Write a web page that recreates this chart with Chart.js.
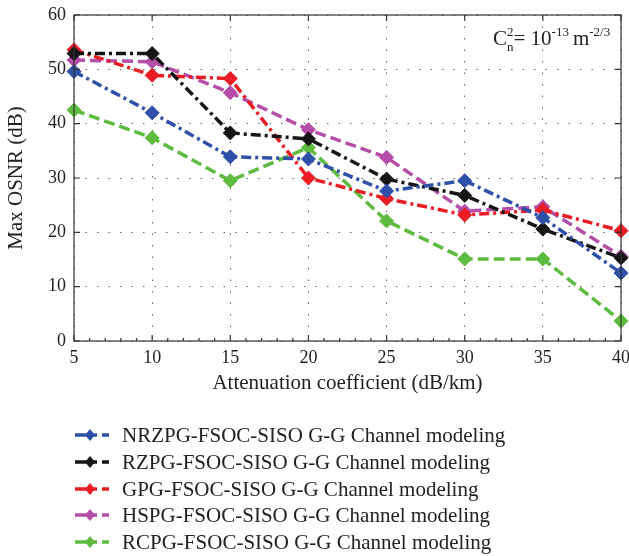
<!DOCTYPE html>
<html>
<head>
<meta charset="utf-8">
<script src="https://cdn.jsdelivr.net/npm/chart.js@4.4.1/dist/chart.umd.min.js"></script>
<style>
  html, body { margin: 0; padding: 0; background: #fff; }
  #wrap { width: 629px; height: 556px; position: relative; }
</style>
</head>
<body>
<div id="wrap"><canvas id="osnrChart"></canvas></div>
<script>
const attenuation = [5, 10, 15, 20, 25, 30, 35, 40];
const nrzpg = [49.6, 42.0, 33.9, 33.5, 27.6, 29.5, 22.7, 12.5];
const rzpg  = [52.9, 52.9, 38.3, 37.2, 29.8, 26.8, 20.6, 15.3];
const gpg   = [53.6, 48.9, 48.3, 30.0, 26.2, 23.2, 24.1, 20.3];
const hspg  = [51.7, 51.4, 45.7, 38.9, 33.8, 23.9, 24.7, 15.6];
const rcpg  = [42.5, 37.4, 29.5, 35.6, 22.1, 15.1, 15.1, 3.7];
const seriesNames = [
  'NRZPG-FSOC-SISO G-G Channel modeling',
  'RZPG-FSOC-SISO G-G Channel modeling',
  'GPG-FSOC-SISO G-G Channel modeling',
  'HSPG-FSOC-SISO G-G Channel modeling',
  'RCPG-FSOC-SISO G-G Channel modeling'
];
const yTicks = [0, 10, 20, 30, 40, 50, 60];

const SERIF = "'Liberation Serif', 'DejaVu Serif', serif";
const colors = ['#2f50a8', '#151515', '#ea1c24', '#b44ea8', '#5dbb3f'];
const dashes = [[10, 4, 3, 4], [10, 4, 3, 4], [10, 4, 3, 4], [11, 5], [11, 5]];

function toPoints(vals) {
  return vals.map((v, i) => ({ x: attenuation[i], y: v }));
}

const allSeries = [nrzpg, rzpg, gpg, hspg, rcpg];
const datasets = allSeries.map((vals, i) => ({
  label: seriesNames[i],
  data: toPoints(vals),
  borderColor: colors[i],
  backgroundColor: colors[i],
  borderWidth: 3.5,
  borderDash: dashes[i],
  pointStyle: 'rectRot',
  pointRadius: 7,
  pointBorderWidth: 1,
  pointBorderColor: colors[i],
  pointBackgroundColor: colors[i],
  tension: 0,
  clip: false
}));

// frame, inward tick marks, annotation and the legend underneath
const decorations = {
  id: 'decorations',
  afterDraw(chart) {
    const ctx = chart.ctx;
    const a = chart.chartArea;
    const xs = chart.scales.x, ys = chart.scales.y;
    ctx.save();
    ctx.strokeStyle = '#333';
    ctx.lineWidth = 1.2;
    ctx.setLineDash([]);
    ctx.strokeRect(a.left, a.top, a.right - a.left, a.bottom - a.top);

    ctx.beginPath();
    for (let v = 5; v <= 40; v += 1) {
      const px = xs.getPixelForValue(v);
      const len = v % 5 === 0 ? 6 : 3;
      ctx.moveTo(px, a.bottom); ctx.lineTo(px, a.bottom - len);
      if (v % 5 === 0) { ctx.moveTo(px, a.top); ctx.lineTo(px, a.top + 6); }
    }
    yTicks.forEach(v => {
      const py = ys.getPixelForValue(v);
      ctx.moveTo(a.left, py); ctx.lineTo(a.left + 6, py);
      ctx.moveTo(a.right, py); ctx.lineTo(a.right - 6, py);
    });
    ctx.stroke();

    // C_n^2 = 10^-13 m^-2/3
    ctx.fillStyle = '#222';
    ctx.textBaseline = 'alphabetic';
    ctx.textAlign = 'left';
    let x = 493, base = 45;
    ctx.font = '21px ' + SERIF;
    ctx.fillText('C', x, base);
    x += ctx.measureText('C').width;
    ctx.font = '13px ' + SERIF;
    ctx.fillText('2', x, base - 9);
    ctx.fillText('n', x, base + 6);
    x += ctx.measureText('n').width;
    ctx.font = '21px ' + SERIF;
    ctx.fillText('= 10', x, base);
    x += ctx.measureText('= 10').width;
    ctx.font = '13px ' + SERIF;
    ctx.fillText('-13', x, base - 9);
    x += ctx.measureText('-13').width + 4;
    ctx.font = '21px ' + SERIF;
    ctx.fillText('m', x, base);
    x += ctx.measureText('m').width;
    ctx.font = '13px ' + SERIF;
    ctx.fillText('-2/3', x, base - 9);

    // legend
    const rows = [435, 462, 489, 515, 542];
    chart.data.datasets.forEach((ds, i) => {
      const y = rows[i];
      ctx.strokeStyle = ds.borderColor;
      ctx.lineWidth = 3.5;
      ctx.setLineDash([]);
      ctx.beginPath();
      ctx.moveTo(75, y); ctx.lineTo(97, y);
      ctx.moveTo(102, y); ctx.lineTo(109, y);
      ctx.stroke();
      ctx.fillStyle = ds.borderColor;
      ctx.beginPath();
      ctx.moveTo(90, y - 6); ctx.lineTo(95, y); ctx.lineTo(90, y + 6); ctx.lineTo(85, y);
      ctx.closePath();
      ctx.fill();
      ctx.fillStyle = '#222';
      ctx.font = '21px ' + SERIF;
      ctx.textBaseline = 'middle';
      ctx.fillText(ds.label, 122, y + 1);
    });
    ctx.restore();
  }
};

new Chart(document.getElementById('osnrChart').getContext('2d'), {
  type: 'line',
  data: { datasets: datasets },
  options: {
    responsive: true,
    maintainAspectRatio: false,
    animation: false,
    layout: { padding: { left: 0, right: 8, top: 15, bottom: 159 } },
    plugins: {
      legend: { display: false },
      tooltip: { enabled: false }
    },
    scales: {
      x: {
        type: 'linear',
        min: 5, max: 40,
        afterFit: s => { s.height = 56; s.paddingLeft = 0; s.paddingRight = 0; },
        ticks: {
          stepSize: 5,
          color: '#222',
          padding: 6,
          font: { family: SERIF, size: 18 }
        },
        grid: { color: '#666', lineWidth: 1, drawTicks: false },
        border: { display: false, dash: [1.5, 10] },
        title: {
          display: true,
          text: 'Attenuation coefficient (dB/km)',
          color: '#222',
          font: { family: SERIF, size: 21 },
          padding: { top: 4, bottom: 1 }
        }
      },
      y: {
        min: 0, max: 60,
        afterFit: s => { s.width = 74; s.paddingTop = 0; s.paddingBottom = 0; },
        ticks: {
          stepSize: 10,
          color: '#222',
          padding: 8,
          font: { family: SERIF, size: 18 }
        },
        grid: { color: '#666', lineWidth: 1, drawTicks: false },
        border: { display: false, dash: [1.5, 10] },
        title: {
          display: true,
          text: 'Max OSNR (dB)',
          color: '#222',
          font: { family: SERIF, size: 21 },
          padding: { top: 4, bottom: 4 }
        }
      }
    }
  },
  plugins: [decorations]
});
</script>
</body>
</html>
